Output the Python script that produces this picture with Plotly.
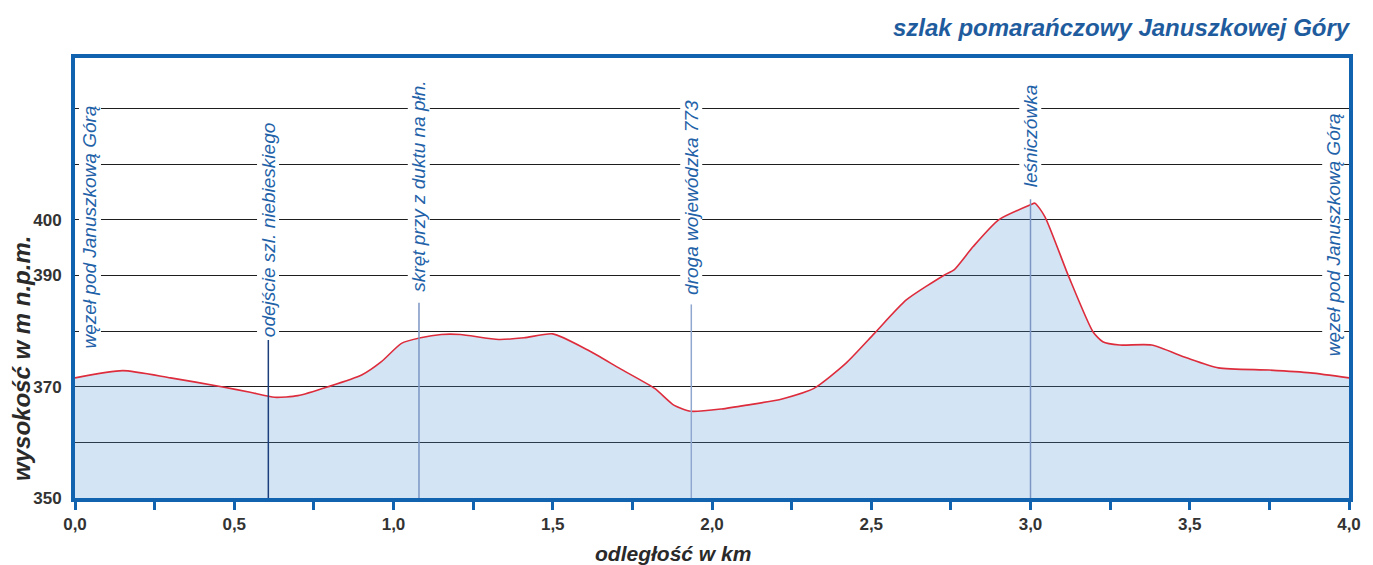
import plotly.graph_objects as go

# ---- data ----
distance_km = [0.0, 0.15, 0.30, 0.46, 0.55, 0.627, 0.70, 0.795, 0.90, 0.962,
               1.025, 1.085, 1.15, 1.21, 1.33, 1.41, 1.50, 1.61, 1.71, 1.82,
               1.88, 1.933, 2.03, 2.11, 2.22, 2.32, 2.42, 2.51, 2.61, 2.73,
               2.76, 2.82, 2.90, 3.00, 3.014, 3.045, 3.12, 3.196, 3.227, 3.28,
               3.38, 3.49, 3.59, 3.75, 3.88, 4.0]
elevation_m = [371.6, 372.9, 371.6, 370.0, 369.0, 368.1, 368.4, 370.0, 372.1, 374.5,
               377.8, 378.8, 379.4, 379.4, 378.5, 378.8, 379.5, 376.6, 373.3, 369.7,
               366.7, 365.6, 366.0, 366.7, 367.8, 369.7, 374.2, 379.6, 385.6, 390.1,
               391.0, 395.2, 400.0, 402.7, 403.0, 400.6, 389.8, 379.9, 378.1, 377.5,
               377.5, 375.2, 373.4, 373.0, 372.5, 371.6]

# waypoints with vertical marker lines
marker_names = ["odejście szl. niebieskiego", "skręt przy z duktu na płn.",
                "droga wojewódzka 773", "leśniczówka"]
marker_km = [0.607, 1.08, 1.935, 3.0]
marker_line_top = [378.4, 385.1, 384.8, 403.7]
marker_label_bottom = [378.8, 387.0, 386.3, 405.6]

# start / end node
node_name = "węzeł pod Januszkową Górą"
node_km = [0.0, 4.0]
node_label_bottom = [376.6, 375.2]

x_tick_vals = [0.0, 0.25, 0.5, 0.75, 1.0, 1.25, 1.5, 1.75, 2.0, 2.25, 2.5, 2.75,
               3.0, 3.25, 3.5, 3.75, 4.0]
x_tick_text = ["0,0", "", "0,5", "", "1,0", "", "1,5", "", "2,0", "", "2,5", "",
               "3,0", "", "3,5", "", "4,0"]
y_tick_vals = [350, 360, 370, 380, 390, 400, 410, 420]
y_tick_text = ["350", "", "370", "", "390", "400", "", ""]

title_text = "szlak pomarańczowy Januszkowej Góry"
x_title = "odległość w km"
y_title = "wysokość w m n.p.m."

# ---- styles ----
FONT = "Liberation Sans, Arial, sans-serif"
FRAME = "#1163b0"
LABEL_BLUE = "#1f62a8"
DARK = "#2a2a2a"

fig = go.Figure()

fig.add_trace(go.Scatter(
    x=distance_km, y=elevation_m, mode="lines",
    line=dict(color="#dd2c3c", width=1.6, shape="spline", smoothing=0.6),
    fill="tozeroy", fillcolor="rgba(79,151,215,0.25)",
    hoverinfo="skip", showlegend=False,
))

line_colors = ["#1c3f7c", "#7b96c4", "#90a8d0", "#7b96c4"]
for km, top, col in zip(marker_km, marker_line_top, line_colors):
    fig.add_trace(go.Scatter(
        x=[km, km], y=[350, top], mode="lines",
        line=dict(color=col, width=1.5),
        hoverinfo="skip", showlegend=False,
    ))

for name, km, yb in zip(marker_names, marker_km, marker_label_bottom):
    fig.add_annotation(
        x=km, y=yb, xref="x", yref="y", text=name, textangle=-90,
        xanchor="center", yanchor="bottom", showarrow=False,
        font=dict(family=FONT, size=19, color=LABEL_BLUE, style="italic"),
        bgcolor="white", borderpad=0,
    )

for km, yb, shift in zip(node_km, node_label_bottom, [15, -16]):
    fig.add_annotation(
        x=km, y=yb, xref="x", yref="y", text=node_name, textangle=-90,
        xanchor="center", yanchor="bottom", showarrow=False, xshift=shift,
        font=dict(family=FONT, size=19, color=LABEL_BLUE, style="italic"),
        bgcolor="white", borderpad=0,
    )

fig.add_annotation(
    x=1, y=1, xref="paper", yref="paper", text=title_text,
    xanchor="right", yanchor="middle", yshift=31, xshift=4, showarrow=False,
    font=dict(family=FONT, size=24, color="#1f5c9e", weight="bold", style="italic"),
)
fig.add_annotation(
    x=0.469, y=0, xref="paper", yref="paper", text=x_title,
    xanchor="center", yanchor="middle", yshift=-55, showarrow=False,
    font=dict(family=FONT, size=21, color=DARK, weight="bold", style="italic"),
)
fig.add_annotation(
    x=0, y=0.316, xref="paper", yref="paper", text=y_title, textangle=-90,
    xanchor="center", yanchor="middle", xshift=-53, showarrow=False,
    font=dict(family=FONT, size=24, color=DARK, weight="bold", style="italic"),
)

fig.update_layout(
    width=1365, height=557,
    margin=dict(l=67, r=20, t=50, b=67),
    paper_bgcolor="white", plot_bgcolor="white",
    showlegend=False,
    xaxis=dict(
        range=[0, 4], tickvals=x_tick_vals, ticktext=x_tick_text,
        showgrid=False, zeroline=False,
        showline=True, linecolor=FRAME, linewidth=4, mirror=True,
        ticks="outside", ticklen=8, tickwidth=3, tickcolor=FRAME,
        tickfont=dict(family=FONT, size=17, color="#333333", weight="bold"),
    ),
    yaxis=dict(
        range=[350, 429.1], tickvals=y_tick_vals, ticktext=y_tick_text,
        showgrid=True, gridcolor="#1e1e1e", gridwidth=1.2, zeroline=False,
        showline=True, linecolor=FRAME, linewidth=4, mirror=True,
        ticks="", ticklabelstandoff=6,
        tickfont=dict(family=FONT, size=17, color="#333333", weight="bold"),
    ),
)

fig.write_html("out.html")
